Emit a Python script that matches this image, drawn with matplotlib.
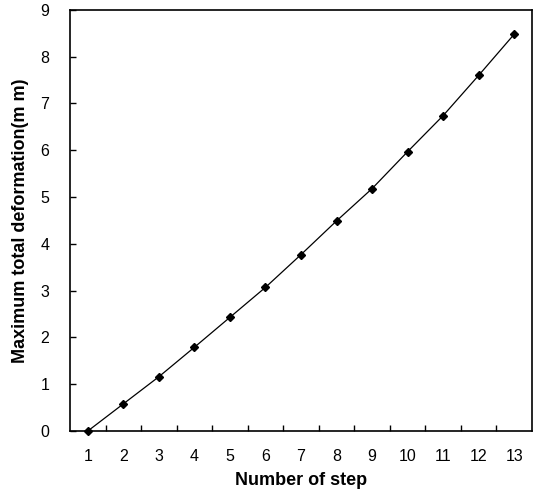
import numpy as np
import matplotlib.pyplot as plt

plt.rcParams['font.family'] = ['Liberation Sans', 'DejaVu Sans']

steps = [1, 2, 3, 4, 5, 6, 7, 8, 9, 10, 11, 12, 13]
deformation = [0.0, 0.58, 1.16, 1.79, 2.43, 3.07, 3.77, 4.49, 5.18, 5.97, 6.74, 7.60, 8.48]

fig = plt.figure(figsize=(5.39, 4.92), dpi=100)
ax = fig.add_axes([0.130, 0.124, 0.857, 0.856])

ax.plot(steps, deformation, color='black', lw=0.9, marker='D', ms=4,
        mfc='black', mec='black', clip_on=False, zorder=3)

ax.set_xlim(0.5, 13.5)
ax.set_ylim(0, 9)
ax.set_xticks(steps)
ax.set_xticks(np.arange(1.5, 13, 1), minor=True)
ax.set_yticks(range(0, 10))

ax.tick_params(axis='x', which='major', length=0, pad=13, labelsize=11.5)
ax.tick_params(axis='x', which='minor', direction='in', length=4, width=1)
ax.tick_params(axis='y', direction='in', length=4, width=1, pad=15, labelsize=11.5)
ax.tick_params(top=False, right=False)

for s in ax.spines.values():
    s.set_linewidth(1.2)

ax.set_xlabel('Number of step', fontweight='bold', fontsize=13, labelpad=6)
ax.set_ylabel('Maximum total deformation(m m)', fontweight='bold', fontsize=13, labelpad=8)

fig.savefig('out.png', dpi=100)
